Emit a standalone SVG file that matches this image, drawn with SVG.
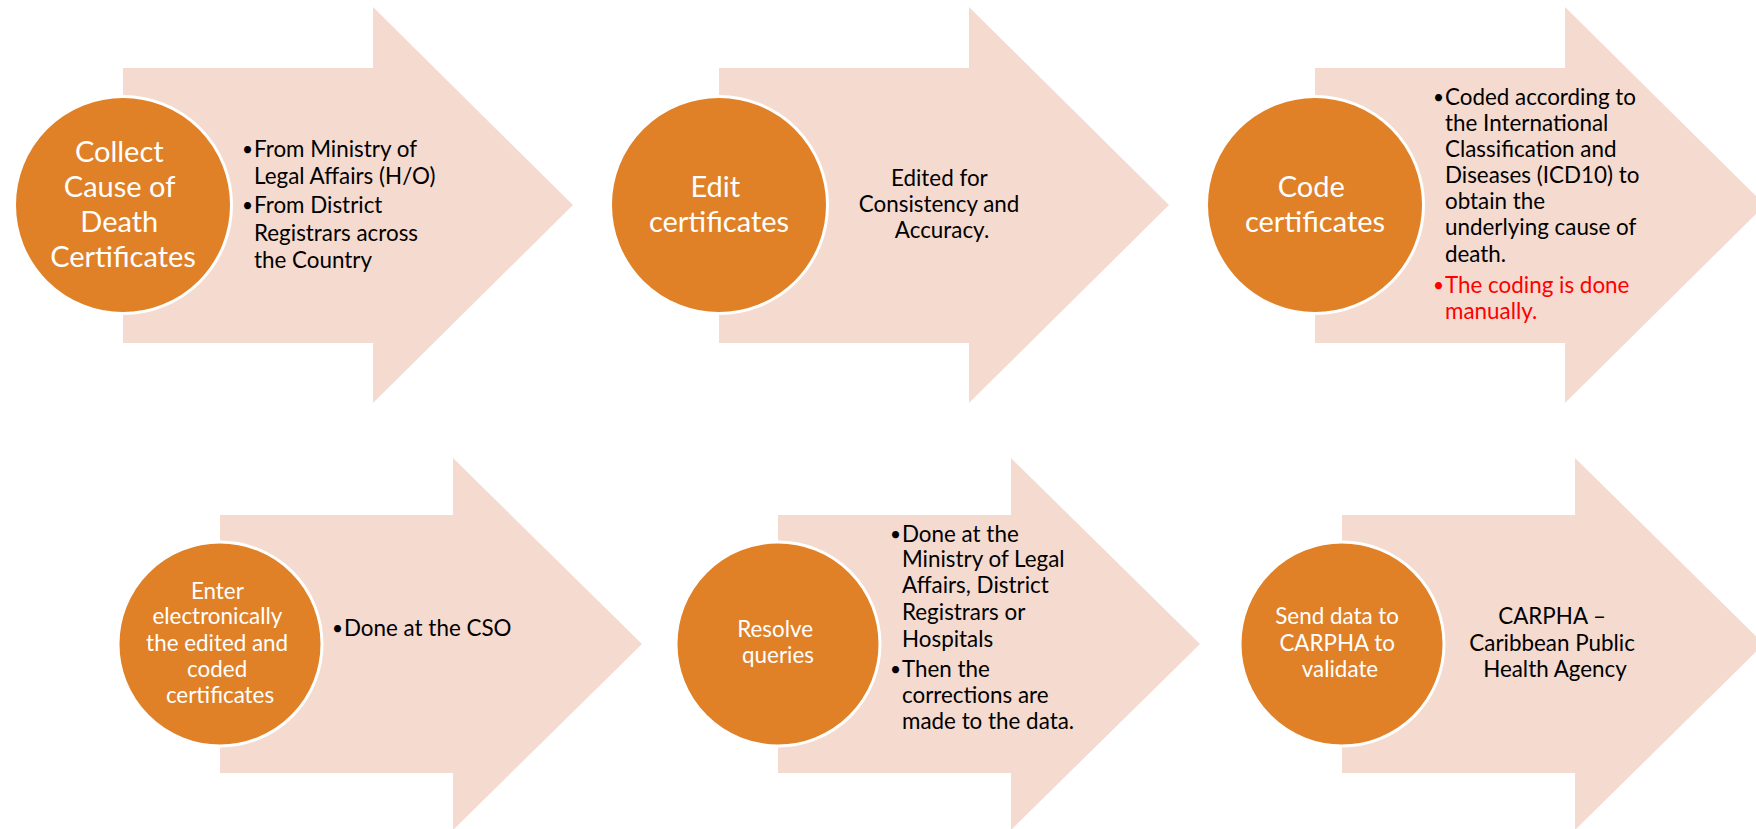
<svg xmlns="http://www.w3.org/2000/svg" xmlns:xlink="http://www.w3.org/1999/xlink" width="1756" height="829" viewBox="0 0 1756 829">
  <style>
    .arrow { fill: #F5DACF; }
    .circ { fill: #E08128; stroke: #FFFFFF; stroke-width: 3; }
    .ctext { font-family: Lato, "Liberation Sans", sans-serif; fill: #FFFFFF; text-anchor: middle; }
    .big { font-size: 29px; }
    .small { font-size: 22.4px; }
    .body { font-family: Lato, "Liberation Sans", sans-serif; font-size: 22.4px; fill: #000000; }
    .bul { font-family: Lato, "Liberation Sans", sans-serif; font-size: 19px; fill: #000000; }
    .mid { text-anchor: middle; }
    .red { fill: #FF0000; }
  </style>
  <defs>
    <path id="arrowTop" d="M0,68 L250,68 L250,7 L450,205 L250,403 L250,343 L0,343 Z"/>
    <path id="arrowBot" d="M0,515 L233,515 L233,458 L422,644 L233,830 L233,773 L0,773 Z"/>
  </defs>
  <rect x="0" y="0" width="1756" height="829" fill="#FFFFFF"/>
  <g id="connectors"></g>

  <g id="step1">
    <use xlink:href="#arrowTop" href="#arrowTop" x="123" class="arrow"/>
    <circle class="circ" cx="123" cy="205" r="108.5"/>
    <text class="ctext big">
      <tspan x="123" y="162">Collect</tspan>
      <tspan x="123" y="197">Cause of</tspan>
      <tspan x="123" y="232">Death</tspan>
      <tspan x="123" y="267">Certificates</tspan>
    </text>
    <text class="bul"><tspan x="242" y="156">•</tspan><tspan x="242" y="212">•</tspan></text>
    <text class="body">
      <tspan x="254" y="157">From Ministry of</tspan>
      <tspan x="254" y="184">Legal Affairs (H/O)</tspan>
      <tspan x="254" y="213">From District</tspan>
      <tspan x="254" y="241">Registrars across</tspan>
      <tspan x="254" y="268">the Country</tspan>
    </text>
  </g>

  <g id="step2">
    <use xlink:href="#arrowTop" href="#arrowTop" x="719" class="arrow"/>
    <circle class="circ" cx="719" cy="205" r="108.5"/>
    <text class="ctext big">
      <tspan x="719" y="197">Edit</tspan>
      <tspan x="719" y="232">certificates</tspan>
    </text>
    <text class="body mid">
      <tspan x="942" y="186">Edited for</tspan>
      <tspan x="942" y="212">Consistency and</tspan>
      <tspan x="942" y="238">Accuracy.</tspan>
    </text>
  </g>

  <g id="step3">
    <use xlink:href="#arrowTop" href="#arrowTop" x="1315" class="arrow"/>
    <circle class="circ" cx="1315" cy="205" r="108.5"/>
    <text class="ctext big">
      <tspan x="1315" y="197">Code</tspan>
      <tspan x="1315" y="232">certificates</tspan>
    </text>
    <text class="bul"><tspan x="1433" y="104">•</tspan></text>
    <text class="body">
      <tspan x="1445" y="105">Coded according to</tspan>
      <tspan x="1445" y="131">the International</tspan>
      <tspan x="1445" y="157">Classification and</tspan>
      <tspan x="1445" y="183">Diseases (ICD10) to</tspan>
      <tspan x="1445" y="209">obtain the</tspan>
      <tspan x="1445" y="235">underlying cause of</tspan>
      <tspan x="1445" y="262">death.</tspan>
    </text>
    <text class="bul red"><tspan x="1433" y="292">•</tspan></text>
    <text class="body red">
      <tspan x="1445" y="293">The coding is done</tspan>
      <tspan x="1445" y="319">manually.</tspan>
    </text>
  </g>

  <g id="step4">
    <use xlink:href="#arrowBot" href="#arrowBot" x="220" class="arrow"/>
    <circle class="circ" cx="220" cy="644" r="102"/>
    <text class="ctext small">
      <tspan x="220" y="599">Enter</tspan>
      <tspan x="220" y="624">electronically</tspan>
      <tspan x="220" y="651">the edited and</tspan>
      <tspan x="220" y="677">coded</tspan>
      <tspan x="220" y="703">certificates</tspan>
    </text>
    <text class="bul"><tspan x="332" y="635">•</tspan></text>
    <text class="body">
      <tspan x="344" y="636">Done at the CSO</tspan>
    </text>
  </g>

  <g id="step5">
    <use xlink:href="#arrowBot" href="#arrowBot" x="778" class="arrow"/>
    <circle class="circ" cx="778" cy="644" r="102"/>
    <text class="ctext small">
      <tspan x="778" y="637">Resolve</tspan>
      <tspan x="778" y="663">queries</tspan>
    </text>
    <text class="bul"><tspan x="890" y="541">•</tspan><tspan x="890" y="676">•</tspan></text>
    <text class="body">
      <tspan x="902" y="542">Done at the</tspan>
      <tspan x="902" y="567">Ministry of Legal</tspan>
      <tspan x="902" y="593">Affairs, District</tspan>
      <tspan x="902" y="620">Registrars or</tspan>
      <tspan x="902" y="647">Hospitals</tspan>
      <tspan x="902" y="677">Then the</tspan>
      <tspan x="902" y="703">corrections are</tspan>
      <tspan x="902" y="729">made to the data.</tspan>
    </text>
  </g>

  <g id="step6">
    <use xlink:href="#arrowBot" href="#arrowBot" x="1342" class="arrow"/>
    <circle class="circ" cx="1342" cy="644" r="102"/>
    <text class="ctext small">
      <tspan x="1340" y="624">Send data to</tspan>
      <tspan x="1340" y="651">CARPHA to</tspan>
      <tspan x="1340" y="677">validate</tspan>
    </text>
    <text class="body mid">
      <tspan x="1555" y="624">CARPHA –</tspan>
      <tspan x="1555" y="651">Caribbean Public</tspan>
      <tspan x="1555" y="677">Health Agency</tspan>
    </text>
  </g>
</svg>
